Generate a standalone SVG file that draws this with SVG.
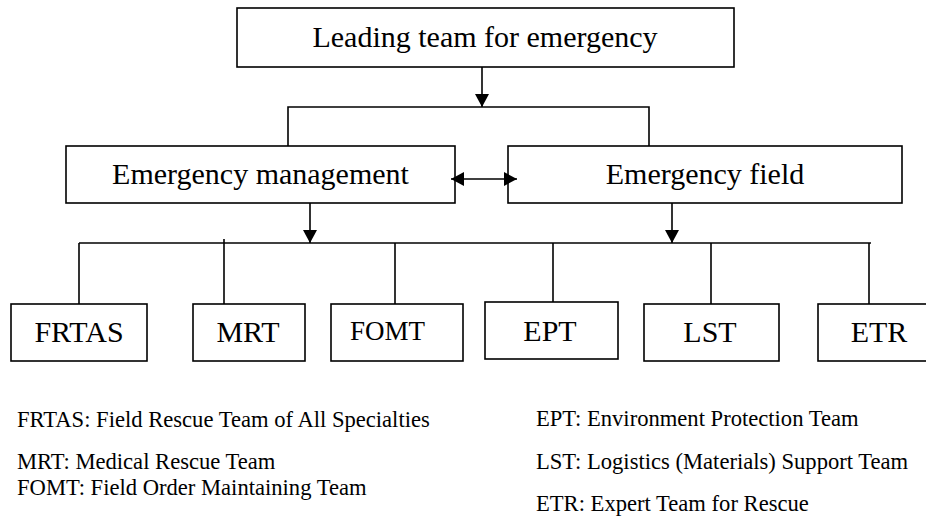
<svg xmlns="http://www.w3.org/2000/svg" width="926" height="516" viewBox="0 0 926 516" font-family="'Liberation Serif', 'DejaVu Serif', serif">
  <style>
    .box { fill: #ffffff; stroke: #000000; stroke-width: 1.6; }
    text { font-family: 'Liberation Serif', 'DejaVu Serif', serif; fill: #000000; }
    .lbl { font-size: 30px; }
    .mid { text-anchor: middle; }
    .key { font-size: 22.6px; }
    .wire { fill: none; stroke: #000000; stroke-width: 1.6; }
  </style>
  <defs>
    <marker id="tip" markerUnits="userSpaceOnUse" markerWidth="14" markerHeight="14" refX="13" refY="7" orient="auto-start-reverse">
      <path d="M0,0 L13,7 L0,14 Z" fill="#000000"/>
    </marker>
  </defs>
  <rect width="926" height="516" fill="#ffffff"/>

  <g id="lead">
    <rect class="box" x="237" y="8" width="497" height="59"/>
    <text class="lbl mid" x="485" y="47">Leading team for emergency</text>
  </g>
  <g id="management">
    <rect class="box" x="66" y="146" width="389" height="57"/>
    <text class="lbl mid" x="260.5" y="184">Emergency management</text>
  </g>
  <g id="field">
    <rect class="box" x="508" y="146" width="394" height="57"/>
    <text class="lbl mid" x="705" y="184">Emergency field</text>
  </g>

  <g id="frtas">
    <rect class="box" x="11" y="304" width="136" height="57"/>
    <text class="lbl mid" x="79" y="342">FRTAS</text>
  </g>
  <g id="mrt">
    <rect class="box" x="193" y="304" width="112" height="57"/>
    <text class="lbl mid" x="248" y="342">MRT</text>
  </g>
  <g id="fomt">
    <rect class="box" x="331" y="304" width="132" height="57"/>
    <text class="lbl" x="350" y="340" style="font-size:27px">FOMT</text>
  </g>
  <g id="ept">
    <rect class="box" x="485" y="302" width="133" height="57"/>
    <text class="lbl mid" x="550" y="341">EPT</text>
  </g>
  <g id="lst">
    <rect class="box" x="644" y="304" width="135" height="57"/>
    <text class="lbl mid" x="710" y="342">LST</text>
  </g>
  <g id="etr">
    <rect class="box" x="818" y="304" width="114" height="57"/>
    <text class="lbl mid" x="879" y="342">ETR</text>
  </g>

  <g id="connectors">
    <line class="wire" x1="482" y1="67" x2="482" y2="107" marker-end="url(#tip)"/>
    <polyline class="wire" points="288,146 288,107 649,107 649,146"/>
    <line class="wire" x1="451" y1="179" x2="517" y2="179" marker-start="url(#tip)" marker-end="url(#tip)"/>
    <line class="wire" x1="310" y1="203" x2="310" y2="243" marker-end="url(#tip)"/>
    <line class="wire" x1="672" y1="203" x2="672" y2="243" marker-end="url(#tip)"/>
    <line class="wire" x1="79" y1="243" x2="871" y2="243"/>
    <line class="wire" x1="79" y1="243" x2="79" y2="304"/>
    <line class="wire" x1="224" y1="239" x2="224" y2="304"/>
    <line class="wire" x1="395" y1="243" x2="395" y2="304"/>
    <line class="wire" x1="553" y1="243" x2="553" y2="302"/>
    <line class="wire" x1="711" y1="243" x2="711" y2="304"/>
    <line class="wire" x1="869" y1="243" x2="869" y2="304"/>
  </g>

  <g id="key">
    <text class="key" x="17" y="427">FRTAS: Field Rescue Team of All Specialties</text>
    <text class="key" x="17" y="469">MRT: Medical Rescue Team</text>
    <text class="key" x="17" y="495">FOMT: Field Order Maintaining Team</text>
    <text class="key" x="536" y="426">EPT: Environment Protection Team</text>
    <text class="key" x="536" y="469">LST: Logistics (Materials) Support Team</text>
    <text class="key" x="536" y="511">ETR: Expert Team for Rescue</text>
  </g>
</svg>
